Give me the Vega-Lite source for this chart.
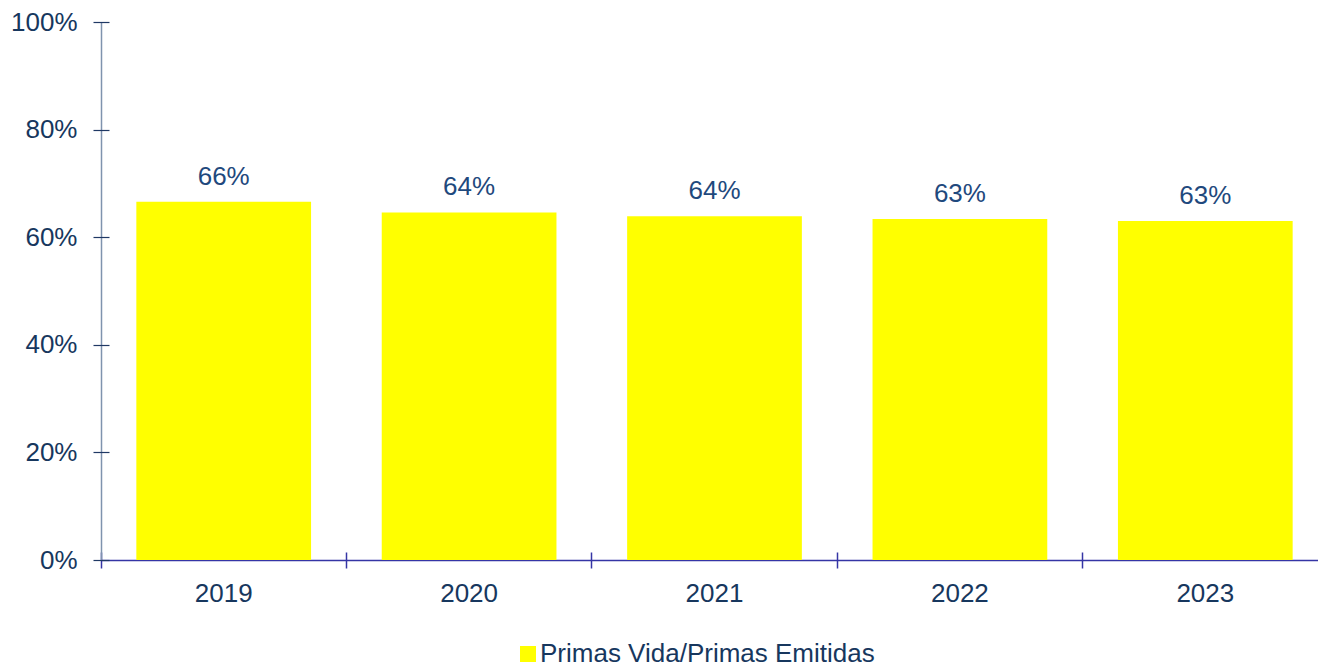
{
  "$schema": "https://vega.github.io/schema/vega-lite/v6.json",
  "autosize": {"type": "none"},
  "width": 1217,
  "height": 538,
  "padding": {"left": 101, "top": 22, "right": 0, "bottom": 108},
  "background": "white",
  "config": {"view": {"stroke": null}, "font": "Liberation Sans"},
  "data": {"values": [
    {"year": "2019", "value": 0.666, "label": "66%", "series": "Primas Vida/Primas Emitidas"},
    {"year": "2020", "value": 0.646, "label": "64%", "series": "Primas Vida/Primas Emitidas"},
    {"year": "2021", "value": 0.639, "label": "64%", "series": "Primas Vida/Primas Emitidas"},
    {"year": "2022", "value": 0.634, "label": "63%", "series": "Primas Vida/Primas Emitidas"},
    {"year": "2023", "value": 0.630, "label": "63%", "series": "Primas Vida/Primas Emitidas"}
  ]},
  "layer": [
    {
      "mark": {"type": "bar", "color": "#FFFF00"},
      "encoding": {
        "x": {"field": "year", "type": "nominal", "sort": null,
          "scale": {"range": [0, 1227], "paddingInner": 0.288, "paddingOuter": 0.144},
          "axis": {"orient": "bottom", "title": null, "labelAngle": 0, "labelFontSize": 26, "labelColor": "#17375E", "labelPadding": 20,
            "ticks": false, "domain": true, "domainColor": "#3535A5", "domainWidth": 1.5, "grid": false}},
        "y": {"field": "value", "type": "quantitative",
          "scale": {"domain": [0, 1], "nice": false},
          "axis": {"orient": "left", "title": null, "format": ".0%", "values": [0, 0.2, 0.4, 0.6, 0.8, 1], "labelFontSize": 26, "labelColor": "#17375E",
            "labelPadding": 24, "ticks": false, "domainColor": "#7F93AE", "domainWidth": 1.5, "grid": false}},
        "color": {"field": "series", "type": "nominal",
          "scale": {"range": ["#FFFF00"]},
          "legend": {"title": null, "orient": "none", "legendX": 414, "legendY": 619, "symbolType": "square", "symbolSize": 256,
            "symbolStrokeWidth": 0, "labelFontSize": 26, "labelColor": "#17375E", "labelOffset": -1, "labelLimit": 600, "direction": "horizontal"}}
      }
    },
    {
      "mark": {"type": "text", "fontSize": 26, "color": "#1F497D", "baseline": "alphabetic", "dy": -17},
      "encoding": {
        "x": {"field": "year", "type": "nominal", "sort": null,
          "axis": {"orient": "bottom", "title": null, "labels": false, "domain": false, "ticks": true, "bandPosition": -0.202, "tickSize": 16, "offset": -8,
            "tickColor": "#3535A5", "tickWidth": 1.5, "grid": false}},
        "y": {"field": "value", "type": "quantitative",
          "axis": {"orient": "left", "title": null, "labels": false, "domain": false, "ticks": true, "values": [0, 0.2, 0.4, 0.6, 0.8, 1],
            "tickSize": 16, "offset": -8, "tickColor": "#1F3864", "tickWidth": 1.2, "grid": false}},
        "text": {"field": "label"}
      }
    }
  ],
  "resolve": {"axis": {"x": "independent", "y": "independent"}}
}
